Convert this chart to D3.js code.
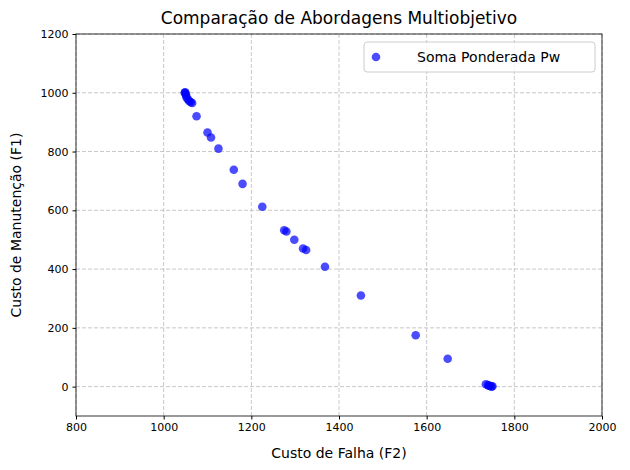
<!DOCTYPE html>
<html><head><meta charset="utf-8">
<script src="https://cdn.jsdelivr.net/npm/d3@7"></script>
<style>body{margin:0;background:#fff;font-family:"DejaVu Sans",sans-serif;}</style>
</head><body>
<svg id="chart" width="630" height="470"></svg>
<script>
// custo de falha (F2) e custo de manutencao (F1)
var f2 = [1048,1049,1050,1051,1052,1055,1058,1062,1065,1075,1100,1108,1125,1160,1180,1225,1275,1280,1298,1318,1325,1368,1450,1575,1648,1735,1740,1742,1745,1748,1750];
var f1 = [1000,1002,997,992,985,978,972,968,965,920,865,848,810,738,690,612,532,528,500,470,465,408,310,175,95,8,5,3,2,0,1];
var xTicks = [800,1000,1200,1400,1600,1800,2000];
var yTicks = [0,200,400,600,800,1000,1200];

var svg = d3.select("#chart"),
    m = {left: 76, right: 28, top: 34, bottom: 54},
    w = 630 - m.left - m.right,
    h = 470 - m.top - m.bottom;

var x = d3.scaleLinear().domain([800, 2000]).range([m.left, m.left + w]);
var y = d3.scaleLinear().domain([-100, 1200]).range([m.top + h, m.top]);

// grid
svg.append("g").selectAll("line").data(xTicks).enter().append("line")
    .attr("x1", d => x(d)).attr("x2", d => x(d))
    .attr("y1", m.top).attr("y2", m.top + h)
    .attr("stroke", "#b0b0b0").attr("stroke-opacity", 0.7).attr("stroke-dasharray", "4,2");
svg.append("g").selectAll("line").data(yTicks).enter().append("line")
    .attr("y1", d => y(d)).attr("y2", d => y(d))
    .attr("x1", m.left).attr("x2", m.left + w)
    .attr("stroke", "#b0b0b0").attr("stroke-opacity", 0.7).attr("stroke-dasharray", "4,2");

var xa = svg.append("g").attr("transform", "translate(0," + (m.top + h) + ")")
    .call(d3.axisBottom(x).tickValues(xTicks).tickSize(3.5).tickPadding(4).tickFormat(d3.format("d")));
var ya = svg.append("g").attr("transform", "translate(" + m.left + ",0)")
    .call(d3.axisLeft(y).tickValues(yTicks).tickSize(3.5).tickPadding(4).tickFormat(d3.format("d")));
[xa, ya].forEach(function(a) {
    a.select(".domain").remove();
    a.selectAll("text").attr("font-size", 11).attr("fill", "#000").attr("font-family", "DejaVu Sans");
    a.selectAll("line").attr("stroke", "#000");
});

svg.append("rect").attr("x", m.left).attr("y", m.top).attr("width", w).attr("height", h)
    .attr("fill", "none").attr("stroke", "#000").attr("stroke-width", 0.8);

svg.append("g").selectAll("circle").data(f2).enter().append("circle")
    .attr("cx", d => x(d)).attr("cy", (d, i) => y(f1[i])).attr("r", 4.3)
    .attr("fill", "blue").attr("fill-opacity", 0.7);

svg.append("text").attr("x", m.left + w / 2).attr("y", 24).attr("text-anchor", "middle")
    .attr("font-size", 17).text("Comparação de Abordagens Multiobjetivo");
svg.append("text").attr("x", m.left + w / 2).attr("y", 458).attr("text-anchor", "middle")
    .attr("font-size", 14).text("Custo de Falha (F2)");
svg.append("text").attr("transform", "translate(21," + (m.top + h / 2) + ") rotate(-90)")
    .attr("text-anchor", "middle").attr("font-size", 14).text("Custo de Manutenção (F1)");

// legenda
var lg = svg.append("g").attr("transform", "translate(364,42)");
lg.append("rect").attr("width", 231).attr("height", 30).attr("rx", 3)
    .attr("fill", "#fff").attr("fill-opacity", 0.8).attr("stroke", "#ccc");
lg.append("circle").attr("cx", 12).attr("cy", 15).attr("r", 4.3).attr("fill", "blue").attr("fill-opacity", 0.7);
lg.append("text").attr("x", 53).attr("y", 20).attr("font-size", 14).text("Soma Ponderada Pw");
</script>
</body></html>
